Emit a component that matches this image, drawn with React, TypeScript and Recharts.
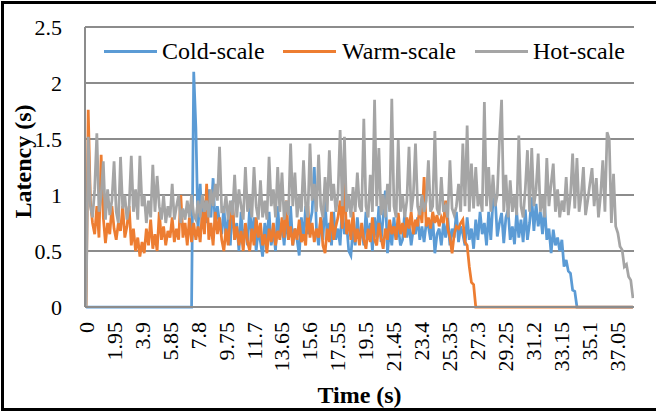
import React from 'react';
import { LineChart, Line, XAxis, YAxis, CartesianGrid, Legend, Label } from 'recharts';

const TIME_STEP = 0.15;

const timeTicks = [0, 1.95, 3.9, 5.85, 7.8, 9.75, 11.7, 13.65, 15.6, 17.55, 19.5, 21.45, 23.4, 25.35, 27.3, 29.25, 31.2, 33.15, 35.1, 37.05];
const latencyTicks = [0, 0.5, 1, 1.5, 2, 2.5];

const coldScale = [
  0, 0, 0, 0, 0, 0, 0, 0, 0, 0,
  0, 0, 0, 0, 0, 0, 0, 0, 0, 0,
  0, 0, 0, 0, 0, 0, 0, 0, 0, 0,
  0, 0, 0, 0, 0, 0, 0, 0, 0, 0,
  0, 0, 0, 0, 0, 0, 0, 0, 0, 0,
  2.1, 1.6, 0.68, 1.1, 0.7, 0.95, 0.75, 1.05, 0.8, 1.15,
  0.7, 0.9, 0.75, 0.65, 0.9, 0.6, 0.8, 0.55, 0.95, 0.6,
  0.75, 0.5, 0.85, 0.6, 0.7, 0.55, 0.9, 0.62, 0.8, 0.5,
  0.7, 0.58, 0.45, 0.75, 0.6, 0.85, 0.55, 0.7, 0.5, 0.9,
  0.62, 0.75, 0.55, 0.8, 0.6, 0.9, 0.55, 0.7, 0.6, 0.46,
  0.8, 0.6, 0.9, 0.65, 0.75, 0.85, 1.25, 0.7, 0.55, 0.8,
  0.6, 0.95, 0.62, 0.75, 0.55, 0.85, 0.6, 0.7, 0.55, 0.9,
  0.65, 0.75, 0.5, 0.46, 0.7, 0.55, 0.8, 0.6, 0.7, 0.55,
  0.85, 0.6, 0.75, 0.5, 0.8, 0.62, 0.9, 0.58, 0.8, 1.04,
  0.48, 0.7, 0.55, 0.8, 0.6, 0.72, 0.55, 0.6, 0.84, 0.62,
  0.75, 0.55, 0.7, 0.65, 0.8, 0.6, 0.72, 0.58, 0.75, 0.72,
  0.6, 0.8, 0.48, 0.65, 0.7, 0.55, 0.75, 0.62, 0.8, 0.55,
  0.7, 0.62, 0.85, 0.58, 0.72, 0.65, 0.55, 0.8, 0.6, 0.7,
  0.52, 0.78, 0.6, 0.85, 0.65, 0.75, 0.55, 0.85, 0.6, 0.95,
  0.98, 0.63, 0.75, 0.84, 0.57, 0.8, 0.87, 0.6, 0.72, 0.56,
  0.85, 0.62, 0.78, 0.58, 0.87, 0.6, 0.75, 0.98, 0.68, 0.92,
  0.72, 0.85, 0.65, 0.9, 0.6, 0.7, 0.48, 0.69, 0.55, 0.62,
  0.5, 0.6, 0.36, 0.42, 0.32, 0.3, 0.15, 0.14, 0, 0,
  0, 0, 0, 0, 0, 0, 0, 0, 0, 0,
  0, 0, 0, 0, 0, 0, 0, 0, 0, 0,
  0, 0, 0, 0, 0,
];

const warmScale = [
  0, 1.76, 0.95, 0.75, 0.65, 0.9, 0.62, 1.36, 0.8, 0.57,
  0.75, 0.65, 0.9, 0.7, 0.6, 0.75, 0.68, 0.9, 0.62, 0.72,
  0.9, 0.55, 0.7, 0.5, 0.62, 0.45, 0.58, 0.48, 0.7, 0.55,
  0.78, 0.52, 0.65, 0.5, 0.85, 0.6, 0.72, 0.55, 0.68, 0.62,
  0.8, 0.58, 0.7, 0.6, 1.0, 0.62, 0.75, 0.55, 0.8, 0.58,
  0.75, 0.6, 0.72, 0.58, 0.85, 0.65, 1.1, 0.6, 0.75, 0.55,
  0.85, 0.65, 0.8, 0.6, 0.5, 0.7, 0.55, 0.8, 0.93, 0.6,
  0.72, 0.55, 0.68, 0.5, 0.75, 0.58, 0.5, 0.7, 0.55, 0.8,
  0.62, 0.75, 0.55, 0.65, 0.48, 0.7, 0.58, 0.75, 0.55, 0.68,
  0.6, 0.8, 0.62, 0.95, 0.6, 0.72, 0.55, 0.7, 0.6, 0.78,
  0.58, 0.65, 0.55, 0.9, 0.62, 0.75, 0.58, 0.7, 0.62, 0.8,
  0.55, 0.48, 0.7, 0.58, 0.85, 0.6, 0.72, 0.8, 0.95, 0.7,
  1.13, 0.65, 0.78, 0.6, 0.85, 0.58, 0.7, 0.55, 0.75, 0.6,
  0.52, 0.7, 0.58, 0.8, 0.6, 0.55, 0.75, 0.62, 0.52, 0.7,
  0.6, 0.78, 0.65, 0.72, 0.6, 0.84, 0.65, 0.75, 0.62, 0.8,
  0.7, 0.85, 0.65, 0.78, 0.72, 0.9, 0.75, 1.16, 0.72, 0.8,
  0.7, 0.85, 0.75, 0.82, 0.72, 0.8, 0.75, 0.95, 0.7, 0.62,
  0.48, 0.65, 0.72, 0.7, 0.75, 0.78, 0.58, 0.55, 0.36, 0.22,
  0.2, 0, 0, 0, 0, 0, 0, 0, 0, 0,
  0, 0, 0, 0, 0, 0, 0, 0, 0, 0,
  0, 0, 0, 0, 0, 0, 0, 0, 0, 0,
  0, 0, 0, 0, 0, 0, 0, 0, 0, 0,
  0, 0, 0, 0, 0, 0, 0, 0, 0, 0,
  0, 0, 0, 0, 0, 0, 0, 0, 0, 0,
  0, 0, 0, 0, 0, 0, 0, 0, 0, 0,
  0, 0, 0, 0, 0,
];

const hotScale = [
  0, 1.52, 0.9, 0.8, 1.05, 1.55, 0.85, 1.0, 1.3, 0.78,
  1.05, 0.82, 0.95, 1.3, 0.85, 0.75, 1.34, 0.88, 1.0, 0.78,
  0.9, 1.35, 0.85, 1.05, 0.78, 1.35, 0.9, 1.0, 0.75, 0.95,
  0.8, 1.27, 0.85, 1.17, 0.9, 0.78, 1.0, 0.75, 0.9, 0.8,
  1.1, 0.78, 0.9, 1.0, 0.75, 0.88, 0.78, 0.95, 0.8, 1.0,
  0.82, 0.78, 0.95, 0.8, 1.0, 0.85, 0.95, 0.8, 1.05, 0.9,
  1.1, 0.95, 1.43, 0.85, 0.85, 1.0, 0.78, 0.95, 0.82, 1.18,
  0.8, 1.05, 0.9, 0.78, 1.25, 0.85, 1.0, 0.8, 1.25, 0.9,
  0.78, 1.13, 0.8, 0.95, 0.78, 1.34, 0.9, 1.05, 0.8, 1.25,
  0.85, 1.2, 0.78, 0.95, 0.82, 1.46, 0.9, 1.2, 0.8, 1.0,
  0.85, 1.31, 0.9, 0.8, 1.46, 0.95, 1.1, 0.85, 1.36, 0.9,
  0.8, 1.16, 0.85, 1.4, 0.95, 1.1, 0.85, 1.0, 1.58, 0.9,
  1.52, 0.85, 1.0, 0.8, 1.07, 0.85, 1.2, 0.9, 0.85, 1.68,
  0.9, 0.8, 1.18, 0.85, 1.85, 0.9, 1.42, 0.82, 1.0, 0.8,
  1.1, 0.85, 1.86, 0.9, 0.8, 1.49, 0.85, 1.0, 0.8, 0.95,
  1.43, 0.85, 1.0, 1.46, 0.9, 0.82, 1.0, 0.85, 0.95, 1.31,
  0.85, 0.9, 1.57, 0.88, 0.82, 1.16, 0.85, 0.9, 0.8, 1.31,
  0.88, 0.82, 0.9, 1.1, 0.85, 1.46, 0.9, 1.62, 0.85, 1.28,
  0.88, 1.25, 0.9, 1.0, 0.85, 1.83, 0.9, 1.25, 0.85, 1.18,
  0.9, 1.0, 1.49, 1.85, 0.85, 1.18, 0.8, 1.13, 0.85, 1.0,
  0.82, 1.53, 0.9, 0.8, 1.05, 1.4, 0.85, 1.42, 0.9, 1.05,
  1.37, 0.85, 1.0, 0.8, 1.33, 0.9, 1.1, 1.28, 0.85, 1.05,
  0.8, 0.95, 0.85, 1.16, 0.82, 1.0, 1.37, 0.88, 1.33, 0.85,
  1.0, 1.25, 0.82, 0.95, 1.1, 1.24, 0.9, 1.15, 0.8, 1.0,
  1.31, 0.85, 1.56, 1.5, 0.75, 1.19, 0.72, 0.66, 0.54, 0.51,
  0.36, 0.38, 0.27, 0.24, 0.08,
];

const seriesNames = ['Cold-scale', 'Warm-scale', 'Hot-scale'];
const seriesColors = ['#5B9BD5', '#ED7D31', '#A5A5A5'];

const data = coldScale.map((c, i) => ({
  t: Math.round(i * TIME_STEP * 100) / 100,
  cold: c,
  warm: warmScale[i],
  hot: hotScale[i],
}));

const FONT = '"Liberation Serif", "Times New Roman", serif';
const GRID = '#8C8C8C';

const XTick = (props: any) => {
  const { x, y, payload } = props;
  const bx = x + 7.5;
  return (
    <text x={bx} y={y} transform={`rotate(-90, ${bx}, ${y})`} textAnchor="end" fontSize={22} fontFamily={FONT} fill="#000">
      {String(payload.value)}
    </text>
  );
};

const YTick = (props: any) => {
  const { x, y, payload } = props;
  return (
    <text x={x} y={y} dy="0.35em" textAnchor="end" fontSize={22} fontFamily={FONT} fill="#000">
      {String(payload.value)}
    </text>
  );
};

const legendLineX = [104, 283, 475];
const legendTextX = [162, 342, 533];

const renderLegend = () => (
  <div style={{ position: 'relative', width: 656, height: 26 }}>
    {seriesNames.map((name, i) => (
      <React.Fragment key={name}>
        <div style={{ position: 'absolute', left: legendLineX[i], top: 11.5, width: 53, height: 3, background: seriesColors[i] }} />
        <div style={{ position: 'absolute', left: legendTextX[i], top: 0, lineHeight: '26px', fontSize: 24, fontFamily: FONT, color: '#000', whiteSpace: 'nowrap' }}>
          {name}
        </div>
      </React.Fragment>
    ))}
  </div>
);

export default function App() {
  return (
    <div style={{ position: 'fixed', left: 0, top: 0, width: 656, height: 412, background: '#fff', overflow: 'hidden' }}>
      <LineChart width={656} height={412} data={data} margin={{ top: 27, right: 22, bottom: 0, left: 0 }}>
        <CartesianGrid horizontal vertical={false} stroke={GRID} strokeWidth={2} />
        <XAxis
          dataKey="t"
          type="number"
          domain={[-0.075, 38.175]}
          allowDataOverflow
          ticks={timeTicks}
          interval={0}
          height={105}
          tickLine={false}
          tickSize={0}
          tickMargin={15}
          axisLine={{ stroke: GRID, strokeWidth: 2 }}
          tick={<XTick />}
        >
          <Label
            content={(p: any) => {
              const vb = p.viewBox;
              return (
                <text x={vb.x + vb.width / 2} y={vb.y + 96} textAnchor="middle" fontSize={24} fontWeight="bold" fontFamily={FONT} fill="#000">
                  Time (s)
                </text>
              );
            }}
          />
        </XAxis>
        <YAxis
          type="number"
          domain={[0, 2.5]}
          ticks={latencyTicks}
          interval={0}
          width={85}
          tickLine={false}
          tickSize={0}
          tickMargin={23}
          axisLine={{ stroke: GRID, strokeWidth: 2 }}
          tick={<YTick />}
        >
          <Label
            content={() => (
              <text x={31} y={161.5} transform="rotate(-90, 31, 161.5)" textAnchor="middle" fontSize={24} fontWeight="bold" fontFamily={FONT} fill="#000">
                Latency (s)
              </text>
            )}
          />
        </YAxis>
        <Legend
          layout="horizontal"
          verticalAlign="middle"
          align="center"
          content={renderLegend}
          wrapperStyle={{ top: 38, left: 0, width: 656, height: 26 }}
        />
        <Line type="linear" dataKey="cold" name={seriesNames[0]} stroke={seriesColors[0]} strokeWidth={2.75} dot={false} isAnimationActive={false} />
        <Line type="linear" dataKey="warm" name={seriesNames[1]} stroke={seriesColors[1]} strokeWidth={2.75} dot={false} isAnimationActive={false} />
        <Line type="linear" dataKey="hot" name={seriesNames[2]} stroke={seriesColors[2]} strokeWidth={2.75} dot={false} isAnimationActive={false} />
      </LineChart>
      <div style={{ position: 'absolute', left: 1, top: 1, width: 700, height: 410, boxSizing: 'border-box', border: '3px solid #000', borderRight: 'none', pointerEvents: 'none' }} />
    </div>
  );
}
